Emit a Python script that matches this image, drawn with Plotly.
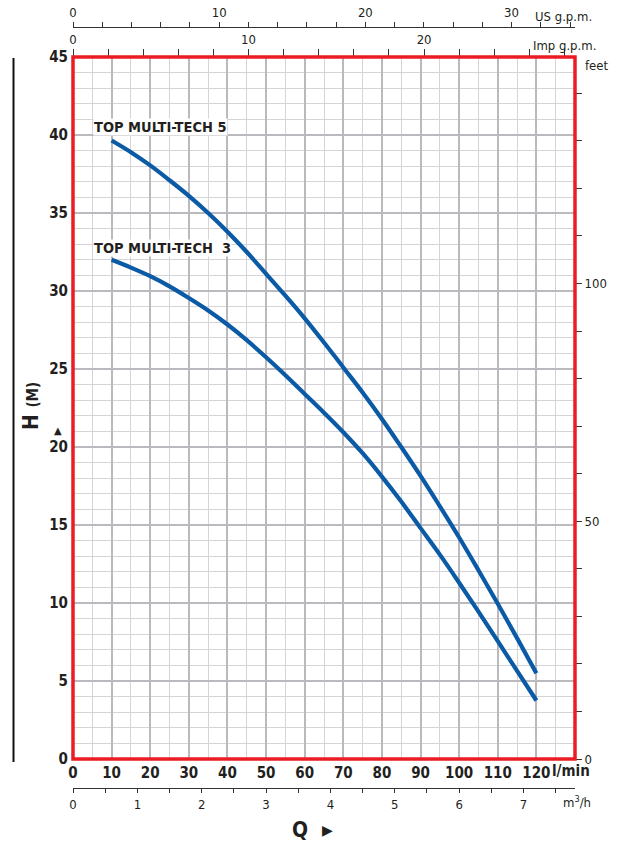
import plotly.graph_objects as go

# ---- data ----
q_lmin = [10, 15, 20, 25, 30, 35, 40, 45, 50, 55, 60, 65, 70, 75, 80, 85, 90, 95, 100, 105, 110, 115, 120]
h_mt5 = [39.65, 38.9, 38.05, 37.1, 36.1, 35.0, 33.8, 32.5, 31.1, 29.7, 28.25, 26.7, 25.1, 23.5, 21.8, 20.0,
         18.15, 16.2, 14.2, 12.1, 9.95, 7.75, 5.5]
h_mt3 = [32.0, 31.5, 30.95, 30.3, 29.55, 28.75, 27.85, 26.85, 25.75, 24.6, 23.4, 22.2, 20.95, 19.6, 18.1, 16.5,
         14.8, 13.1, 11.3, 9.45, 7.55, 5.65, 3.75]
series_names = ["TOP MULTI-TECH 5", "TOP MULTI-TECH\u00a0\u00a03"]

x_ticks = [0, 10, 20, 30, 40, 50, 60, 70, 80, 90, 100, 110, 120]
y_ticks = [0, 5, 10, 15, 20, 25, 30, 35, 40, 45]
us_ticks = [0, 10, 20, 30]
imp_ticks = [0, 10, 20]
m3h_ticks = [0, 1, 2, 3, 4, 5, 6, 7]
ft_ticks = [0, 50, 100]

# unit conversions
US_GPM = 3.78541
IMP_GPM = 4.54609
M3H = 16.6667
FT = 3.28084
Q_MAX = 130
H_MAX = 45

W, H = 617, 843
ML, MR, MT, MB = 73, 42, 10, 30
PW, PH = W - ML - MR, H - MT - MB


def fy(p):
    return (H - MB - p) / PH


def fx(p):
    return (p - ML) / PW


FONT = "Liberation Sans Narrow, DejaVu Sans Condensed, Arial Narrow, sans-serif"
BLUE = "#0b5aa6"
RED = "#ec1c24"
GRID_D = "#b9b9be"
GRID_L = "#d5d5d9"
TXT = "#231f20"

fig = go.Figure()
for hv in (h_mt5, h_mt3):
    fig.add_trace(go.Scatter(x=q_lmin, y=hv, mode="lines",
                             line=dict(color=BLUE, width=4.2, shape="spline", smoothing=1.0),
                             showlegend=False, hoverinfo="skip"))
# dummy traces to activate secondary axes
fig.add_trace(go.Scatter(x=[None], y=[None], xaxis="x2", yaxis="y", showlegend=False))
fig.add_trace(go.Scatter(x=[None], y=[None], xaxis="x3", yaxis="y", showlegend=False))
fig.add_trace(go.Scatter(x=[None], y=[None], xaxis="x4", yaxis="y", showlegend=False))
fig.add_trace(go.Scatter(x=[None], y=[None], xaxis="x", yaxis="y2", showlegend=False))

dom_y = [fy(759), fy(57)]
bold_font = dict(family=FONT, size=15, color=TXT, weight="bold")
thin_font = dict(family=FONT, size=13, color=TXT)
mtick = dict(ticks="outside", tickcolor="#333", tickwidth=1)

fig.update_layout(
    width=W, height=H,
    margin=dict(l=ML, r=MR, t=MT, b=MB, autoexpand=False),
    paper_bgcolor="white", plot_bgcolor="white",
    font=dict(family=FONT, color=TXT),
    xaxis=dict(range=[0, Q_MAX], tickvals=x_ticks, ticks="", tickfont=bold_font, automargin=False,
               showgrid=True, gridcolor=GRID_D, gridwidth=1.8, zeroline=False, showline=False,
               minor=dict(dtick=5, tick0=0, showgrid=True, gridcolor=GRID_L, gridwidth=1.4),
               domain=[0, 1], anchor="y", ticklabelstandoff=3),
    yaxis=dict(range=[0, H_MAX], tickvals=y_ticks, ticks="", tickfont=bold_font, automargin=False,
               showgrid=True, gridcolor=GRID_D, gridwidth=1.8, zeroline=False, showline=False,
               minor=dict(dtick=1, tick0=0, showgrid=True, gridcolor=GRID_L, gridwidth=1.4),
               domain=dom_y, anchor="x", ticklabelstandoff=4),
    xaxis2=dict(range=[0, Q_MAX / US_GPM], overlaying="x", side="top", anchor="free", automargin=False,
                position=fy(26.7), tickvals=us_ticks, ticklen=5, **mtick,
                showline=True, linecolor="#333", linewidth=1,
                showgrid=False, zeroline=False, tickfont=thin_font,
                minor=dict(dtick=2, tick0=0, ticklen=5, **mtick)),
    xaxis3=dict(range=[0, Q_MAX / IMP_GPM], overlaying="x", side="top", anchor="y", automargin=False,
                tickvals=imp_ticks, ticklen=7, **mtick,
                showline=False, showgrid=False, zeroline=False, tickfont=thin_font,
                minor=dict(dtick=2, tick0=0, ticklen=7, **mtick)),
    xaxis4=dict(range=[0, Q_MAX / M3H], overlaying="x", side="bottom", anchor="free", automargin=False,
                position=fy(788.3), tickvals=m3h_ticks, ticklen=4, **mtick,
                showline=True, linecolor="#333", linewidth=1,
                showgrid=False, zeroline=False, tickfont=thin_font,
                minor=dict(dtick=0.5, tick0=0, ticklen=4, **mtick)),
    yaxis2=dict(range=[0, H_MAX * FT], overlaying="y", side="right", anchor="x", automargin=False,
                tickvals=ft_ticks, ticklen=6, **mtick,
                showline=False, showgrid=False, zeroline=False, tickfont=thin_font,
                minor=dict(dtick=10, tick0=0, ticklen=6, **mtick)),
)

# red frame
fig.add_shape(type="rect", xref="x domain", yref="y domain", x0=0, x1=1, y0=0, y1=1,
              line=dict(color=RED, width=3.5), layer="above")
# black vertical rule at left
fig.add_shape(type="line", xref="paper", yref="paper", x0=fx(13.5), x1=fx(13.5), y0=fy(58), y1=fy(762),
              line=dict(color="#111", width=2))

# curve labels
for name, yl in zip(series_names, [40.54, 32.76]):
    fig.add_annotation(x=5.2, y=yl, xref="x", yref="y", text=name, showarrow=False,
                       xanchor="left", yanchor="middle", bgcolor="white", borderpad=0,
                       font=dict(family=FONT, size=14.5, color=TXT, weight="bold"))

ann = [
    ("l/min", fx(550), fy(771), bold_font, "left", 0),
    ("US g.p.m.", fx(533), fy(16.5), thin_font, "left", 0),
    ("Imp g.p.m.", fx(531), fy(45.5), thin_font, "left", 0),
    ("m<sup>3</sup>/h", fx(561), fy(802), thin_font, "left", 0),
    ("feet", fx(583), fy(65), thin_font, "left", 0),
    ("H <span style='font-size:15px'>(M)</span>", fx(31), fy(406),
     dict(family=FONT, size=21, color=TXT, weight="bold"), "center", -90),
    ("\u25b2", fx(58), fy(430), dict(family="DejaVu Sans", size=10, color=TXT), "center", 0),
    ("Q", fx(300), fy(830), dict(family=FONT, size=21, color=TXT, weight="bold"), "center", 0),
    ("\u25b6", fx(327), fy(830), dict(family="DejaVu Sans", size=14, color=TXT), "center", 0),
]
for text, x, y, f, xa, ang in ann:
    fig.add_annotation(x=x, y=y, xref="paper", yref="paper", text=text, showarrow=False,
                       xanchor=xa, yanchor="middle", font=f, textangle=ang)

fig.write_html("out.html", config={"displayModeBar": False},
               post_script="document.body.style.margin='0';document.body.style.padding='0';")
